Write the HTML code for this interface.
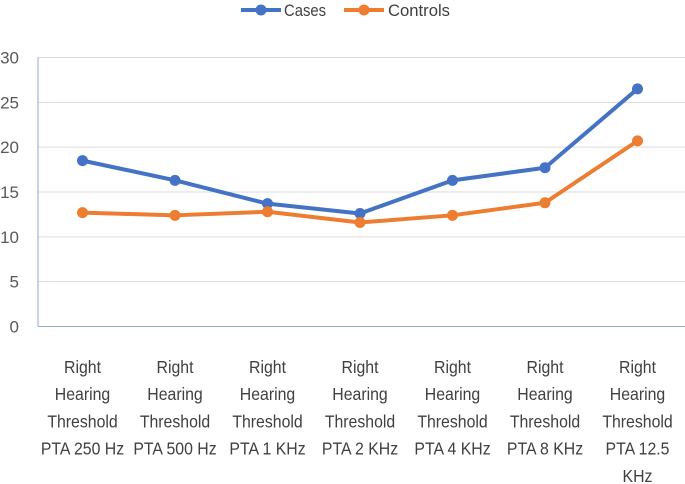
<!DOCTYPE html>
<html><head><meta charset="utf-8"><style>
html,body{margin:0;padding:0;background:#fff;}
svg{display:block;font-family:"Liberation Sans",sans-serif;}
</style></head><body>
<svg id="chart" width="685" height="484">
<g id="grid"></g>
<g id="yticks"></g>
<g id="xticks"></g>
<g id="series"></g>
<g>
 <g>
  <line x1="241" y1="10" x2="281" y2="10" stroke="#4472C4" stroke-width="4"/>
  <circle cx="261" cy="10" r="5.5" fill="#4472C4"/>
  <text x="284" y="16" font-size="17" fill="#404040" textLength="42" lengthAdjust="spacingAndGlyphs">Cases</text>
 </g>
 <g>
  <line x1="344" y1="10" x2="384" y2="10" stroke="#ED7D31" stroke-width="4"/>
  <circle cx="364" cy="10" r="5.5" fill="#ED7D31"/>
  <text x="388" y="16" font-size="17" fill="#404040" textLength="62" lengthAdjust="spacingAndGlyphs">Controls</text>
 </g>
</g>
</svg>
<script>
const categories=[["Right","Hearing","Threshold","PTA 250 Hz"],["Right","Hearing","Threshold","PTA 500 Hz"],["Right","Hearing","Threshold","PTA 1 KHz"],["Right","Hearing","Threshold","PTA 2 KHz"],["Right","Hearing","Threshold","PTA 4 KHz"],["Right","Hearing","Threshold","PTA 8 KHz"],["Right","Hearing","Threshold","PTA 12.5","KHz"]];
const cases=[18.5,16.3,13.7,12.6,16.3,17.7,26.5];
const controls=[12.7,12.4,12.8,11.6,12.4,13.8,20.7];
const yTicks=[0,5,10,15,20,25,30];
const NS="http://www.w3.org/2000/svg";
const x0=38,x1=685,y0=326.5,yTop=57.5;
const step=92.5,firstX=82.5;
function xs(i){return firstX+step*i;}
function ys(v){return y0-(v/30)*(y0-yTop);}
function mk(t,a,p){const e=document.createElementNS(NS,t);for(const k in a)e.setAttribute(k,a[k]);p.appendChild(e);return e;}
const grid=document.getElementById('grid'),yt=document.getElementById('yticks'),xt=document.getElementById('xticks'),sg=document.getElementById('series');
yTicks.forEach(v=>{
 if(v>0){const l=mk('line',{x1:x0,x2:x1,y1:ys(v),y2:ys(v),stroke:'#d9d9d9','stroke-width':1},grid);
 
 }
 const t=mk('text',{x:19,y:ys(v)+6,'font-size':17,fill:'#595959','text-anchor':'end'},yt);
 t.textContent=v;
 
 
});
const ax=mk('line',{x1:x0,x2:x0,y1:yTop,y2:y0,stroke:'#8faadc','stroke-width':1},grid);


const bx=mk('line',{x1:x0,x2:x1,y1:y0,y2:y0,stroke:'#8faadc','stroke-width':1},grid);


categories.forEach((c,i)=>{
 const g=mk('g',{transform:'translate('+xs(i)+',0) scale(0.88,1)'},xt);
 const t=mk('text',{'font-size':18,fill:'#404040','text-anchor':'middle'},g);
 
 
 c.forEach((ln,j)=>{const s=mk('tspan',{x:0,y:373+j*27.2},t);s.textContent=ln;});
});
function draw(vals,color,name){
 const pts=vals.map((v,i)=>xs(i)+','+ys(v)).join(' ');
 const pl=mk('polyline',{points:pts,fill:'none',stroke:color,'stroke-width':4,'stroke-linejoin':'round'},sg);
 
 
 vals.forEach((v,i)=>{const c=mk('circle',{cx:xs(i),cy:ys(v),r:5.5,fill:color},sg);
 
 });
}
draw(cases,'#4472C4','cases');
draw(controls,'#ED7D31','controls');
</script>
</body></html>
